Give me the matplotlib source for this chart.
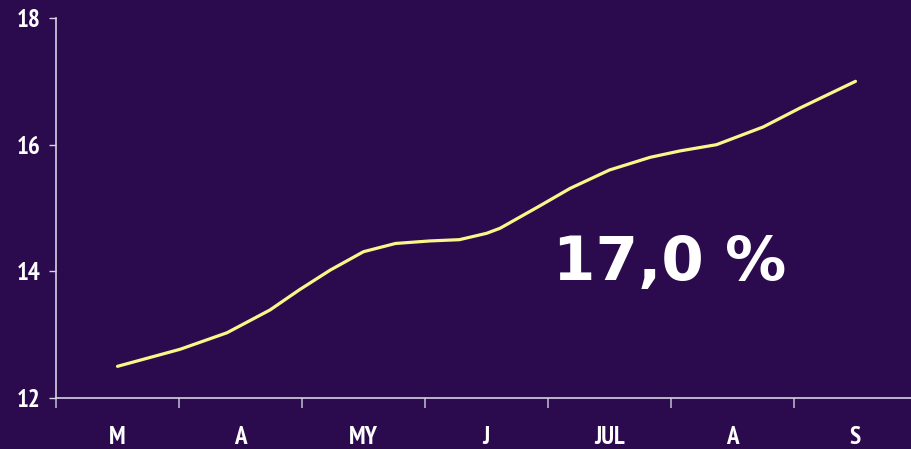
import matplotlib
matplotlib.use("Agg")
import matplotlib.pyplot as plt
import numpy as np

# Category labels (months)
months = ["M", "A", "MY", "J", "JUL", "A", "S"]

# Series: position along the month axis and value
time_pos = [0.00, 0.51, 0.89, 1.24, 1.48, 1.73, 2.00, 2.26, 2.54, 2.78, 3.00,
            3.11, 3.43, 3.68, 4.00, 4.33, 4.57, 4.87, 5.25, 5.55, 6.00]
values = [12.50, 12.77, 13.03, 13.39, 13.71, 14.02, 14.31, 14.44, 14.48, 14.50, 14.60,
          14.68, 15.03, 15.31, 15.60, 15.80, 15.90, 16.00, 16.28, 16.58, 17.00]

y_ticks = [12, 14, 16, 18]
annotation = "17,0 %"

BG = "#2B0A4E"
LINE = "#FCF68A"
AXIS = "#D8D2E4"

W, H = 911, 449
fig = plt.figure(figsize=(W / 100, H / 100), dpi=100, facecolor=BG)
ax = fig.add_axes([56 / W, 1 - 398 / H, (917 - 56) / W, (398 - 18) / H])
ax.set_facecolor(BG)

ax.plot(time_pos, values, color=LINE, lw=2.3, solid_capstyle="round",
        solid_joinstyle="round")

ax.set_xlim(-0.5, len(months) - 0.5)
ax.set_ylim(12, 18)

tick_font = dict(family=["PT Sans Narrow", "DejaVu Sans"], weight="bold")

ax.set_yticks(y_ticks)
ax.set_yticklabels([str(t) for t in y_ticks], color="white", fontsize=18, **tick_font)
ax.set_xticks(np.arange(len(months)))
ax.set_xticklabels(months, color="white", fontsize=18, **tick_font)
ax.set_xticks(np.arange(len(months) + 1) - 0.5, minor=True)

ax.tick_params(axis="y", length=5, width=1, color=AXIS, pad=6)
ax.tick_params(axis="x", which="major", length=0, pad=20)
ax.tick_params(axis="x", which="minor", length=7, width=1.2, color="#B8B0C8",
               direction="out")

for s in ["top", "right"]:
    ax.spines[s].set_visible(False)
for s in ["left", "bottom"]:
    ax.spines[s].set_color(AXIS)
    ax.spines[s].set_linewidth(1.2)

fig.text(553 / W, 1 - 280 / H, annotation, color="white", fontsize=44,
         ha="left", va="baseline", family="DejaVu Sans", weight="bold")

fig.savefig("out.png", dpi=100, facecolor=BG)
